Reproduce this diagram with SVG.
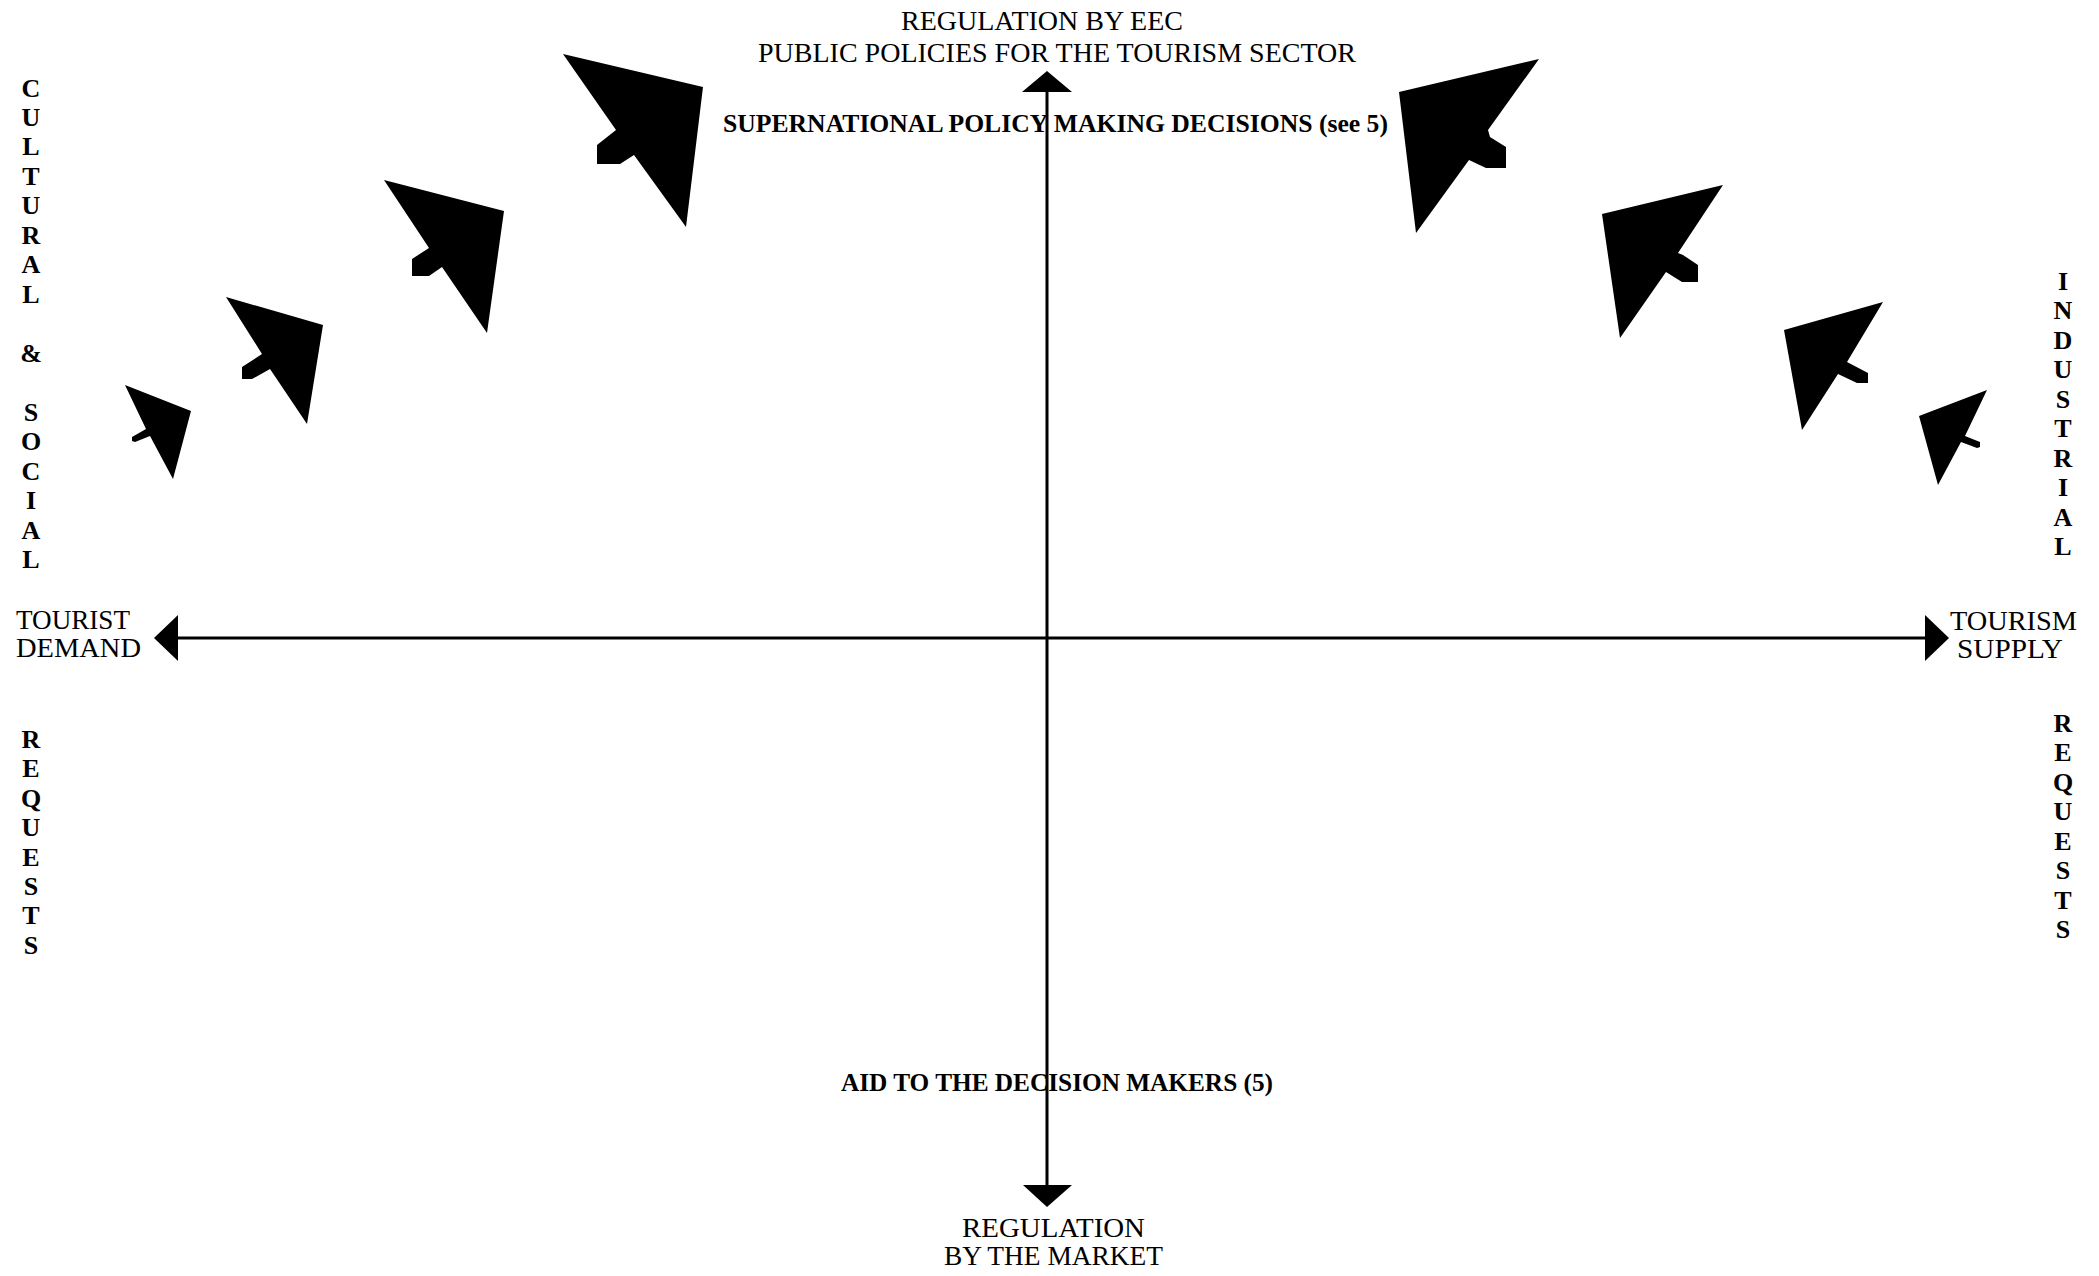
<svg xmlns="http://www.w3.org/2000/svg" width="2099" height="1276" viewBox="0 0 2099 1276">
<style>
  .t { font-family: "Liberation Serif", "DejaVu Serif", serif; font-size: 27px; fill: #000; }
  .b { font-family: "Liberation Serif", "DejaVu Serif", serif; font-size: 25px; font-weight: bold; fill: #000; }
  .v { font-family: "Liberation Serif", "DejaVu Serif", serif; font-size: 26px; font-weight: bold; fill: #000; text-anchor: middle; }
  .ax { stroke: #000; stroke-width: 3; fill: none; }
  .hd { fill: #000; stroke: none; }
  .pt { fill: #000; stroke: none; }
</style>
<rect width="2099" height="1276" fill="#fff"/>

<g id="label-top">
  <text class="t" x="901" y="30" textLength="282" lengthAdjust="spacingAndGlyphs">REGULATION BY EEC</text>
  <text class="t" x="758" y="62" textLength="598" lengthAdjust="spacingAndGlyphs">PUBLIC POLICIES FOR THE TOURISM SECTOR</text>
</g>
<g id="label-supernational">
  <text class="b" x="723" y="132" textLength="665" lengthAdjust="spacingAndGlyphs">SUPERNATIONAL POLICY MAKING DECISIONS (see 5)</text>
</g>
<g id="label-aid">
  <text class="b" x="841" y="1091" textLength="432" lengthAdjust="spacingAndGlyphs">AID TO THE DECISION MAKERS (5)</text>
</g>
<g id="label-bottom">
  <text class="t" x="962" y="1237" textLength="183" lengthAdjust="spacingAndGlyphs">REGULATION</text>
  <text class="t" x="944" y="1265" textLength="219" lengthAdjust="spacingAndGlyphs">BY THE MARKET</text>
</g>
<g id="label-demand">
  <text class="t" x="16" y="629" textLength="114" lengthAdjust="spacingAndGlyphs">TOURIST</text>
  <text class="t" x="16" y="657" textLength="125" lengthAdjust="spacingAndGlyphs">DEMAND</text>
</g>
<g id="label-supply">
  <text class="t" x="1950" y="630" textLength="127" lengthAdjust="spacingAndGlyphs">TOURISM</text>
  <text class="t" x="1957" y="658" textLength="106" lengthAdjust="spacingAndGlyphs">SUPPLY</text>
</g>

<g id="label-cultural-social">
  <text class="v" x="31" y="97">C</text>
  <text class="v" x="31" y="126">U</text>
  <text class="v" x="31" y="155">L</text>
  <text class="v" x="31" y="185">T</text>
  <text class="v" x="31" y="214">U</text>
  <text class="v" x="31" y="244">R</text>
  <text class="v" x="31" y="273">A</text>
  <text class="v" x="31" y="303">L</text>
  <text class="v" x="31" y="362">&amp;</text>
  <text class="v" x="31" y="421">S</text>
  <text class="v" x="31" y="450">O</text>
  <text class="v" x="31" y="480">C</text>
  <text class="v" x="31" y="509">I</text>
  <text class="v" x="31" y="539">A</text>
  <text class="v" x="31" y="568">L</text>
</g>
<g id="label-requests-left">
  <text class="v" x="31" y="748">R</text>
  <text class="v" x="31" y="777">E</text>
  <text class="v" x="31" y="807">Q</text>
  <text class="v" x="31" y="836">U</text>
  <text class="v" x="31" y="866">E</text>
  <text class="v" x="31" y="895">S</text>
  <text class="v" x="31" y="924">T</text>
  <text class="v" x="31" y="954">S</text>
</g>
<g id="label-industrial">
  <text class="v" x="2063" y="290">I</text>
  <text class="v" x="2063" y="319">N</text>
  <text class="v" x="2063" y="349">D</text>
  <text class="v" x="2063" y="378">U</text>
  <text class="v" x="2063" y="408">S</text>
  <text class="v" x="2063" y="437">T</text>
  <text class="v" x="2063" y="467">R</text>
  <text class="v" x="2063" y="496">I</text>
  <text class="v" x="2063" y="526">A</text>
  <text class="v" x="2063" y="555">L</text>
</g>
<g id="label-requests-right">
  <text class="v" x="2063" y="732">R</text>
  <text class="v" x="2063" y="761">E</text>
  <text class="v" x="2063" y="791">Q</text>
  <text class="v" x="2063" y="820">U</text>
  <text class="v" x="2063" y="850">E</text>
  <text class="v" x="2063" y="879">S</text>
  <text class="v" x="2063" y="909">T</text>
  <text class="v" x="2063" y="938">S</text>
</g>

<g id="pointers">
  <polygon class="pt" points="563,54 703,87 686,227 634,155 620,164 597,164 597,145 616,130"/>
  <polygon class="pt" points="384,180 504,211 487,333 442,267 429,276 412,276 412,259 429,248"/>
  <polygon class="pt" points="226,297 323,325 307,424 270,369 252,379 242,379 242,367 262,354"/>
  <polygon class="pt" points="125,385 191,411 173,479 150,436 135,442 132,441 132,437 146,429"/>
  <polygon class="pt" points="1399,92 1539,59 1488,130 1490,137 1506,147 1506,168 1486,168 1469,160 1416,233"/>
  <polygon class="pt" points="1602,214 1723,185 1678,253 1683,255 1698,265 1698,282 1682,282 1666,272 1620,338"/>
  <polygon class="pt" points="1784,330 1883,302 1847,362 1868,373 1868,383 1857,383 1838,374 1802,430"/>
  <polygon class="pt" points="1919,416 1987,390 1965,436 1980,442 1980,447 1977,448 1961,442 1938,485"/>
</g>

<g id="connectors">
  <line class="ax" x1="175" y1="638" x2="1928" y2="638"/>
  <line class="ax" x1="1047" y1="88" x2="1047" y2="1188"/>
  <polygon class="hd" points="154,638 178,615 178,661"/>
  <polygon class="hd" points="1949,638 1925,615 1925,661"/>
  <polygon class="hd" points="1047,71 1022,92 1072,92"/>
  <polygon class="hd" points="1047,1207 1023,1185 1072,1185"/>
</g>
</svg>
